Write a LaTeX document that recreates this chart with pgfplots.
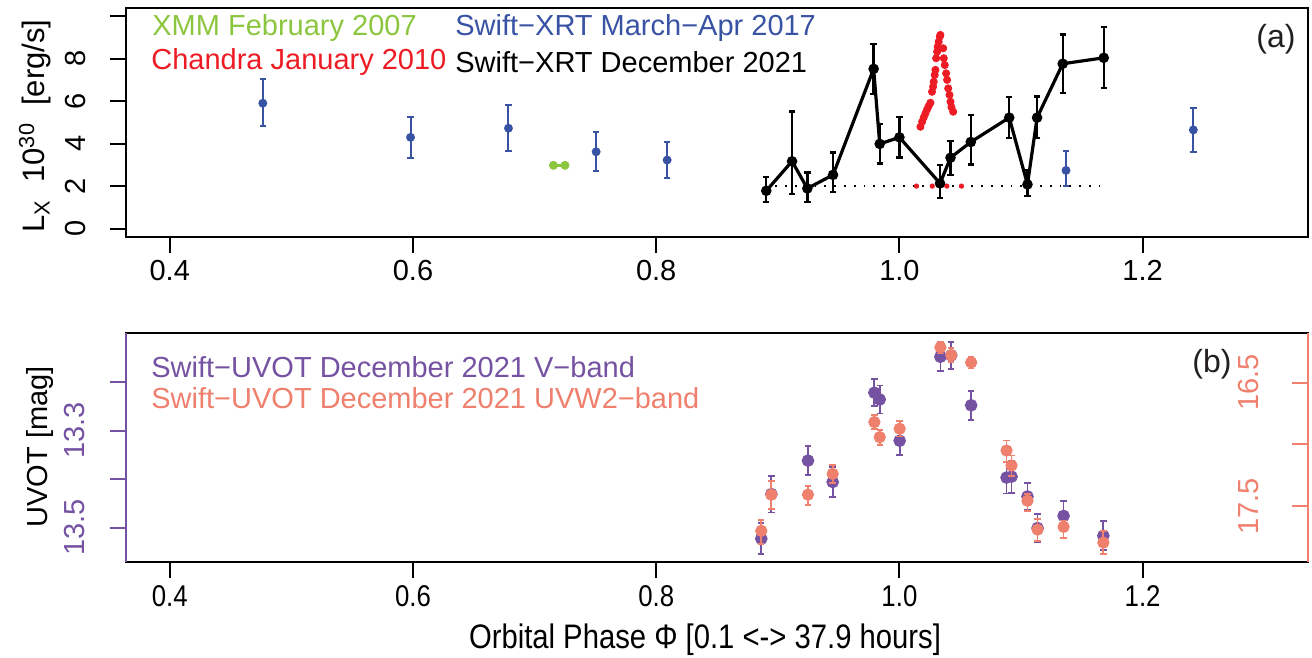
\documentclass[border=0pt]{standalone}
\usepackage{pgfplots}
\usepackage{pgfplotstable}
\pgfplotsset{compat=1.18}
\usepackage{fontspec}
\setmainfont{Liberation Sans}
\newfontfamily\condfont[FakeStretch=0.86]{Liberation Sans}

\definecolor{xmmgreen}{RGB}{140,198,63}
\definecolor{chred}{RGB}{237,28,36}
\definecolor{xrtblue}{RGB}{57,83,164}
\definecolor{vpurple}{RGB}{117,82,162}
\definecolor{uvsalmon}{RGB}{240,128,110}
\definecolor{dark}{RGB}{35,31,32}

% Swift-XRT March-Apr 2017
\pgfplotstableread{
x      y     ep    em
0.4765 5.91  1.15  1.09
0.5980 4.30  0.98  0.99
0.6785 4.73  1.08  1.08
0.7506 3.62  0.95  0.90
0.8090 3.23  0.85  0.84
1.1370 2.74  0.91  0.73
1.2417 4.65  1.05  1.03
}\xrtold

% Swift-XRT December 2021
\pgfplotstableread{
x      y     ep    em
0.8905 1.78  0.65  0.52
0.9117 3.17  2.34  1.55
0.9243 1.89  0.76  0.63
0.9454 2.53  1.06  0.80
0.9788 7.53  1.18  1.18
0.9838 3.99  0.94  0.92
1.0000 4.30  0.95  0.96
1.0334 2.13  0.86  0.68
1.0420 3.34  0.79  0.82
1.0587 4.08  1.28  1.07
1.0903 5.23  0.96  0.96
1.1053 2.08  0.68  0.55
1.1132 5.23  0.99  0.96
1.1343 7.77  1.38  1.39
1.1680 8.05  1.45  1.43
}\xrtnew

% Swift-UVOT V-band
\pgfplotstableread{
x      y      e
0.8864 13.523 0.032
0.8947 13.431 0.038
0.9248 13.362 0.030
0.9451 13.406 0.031
0.9794 13.222 0.028
0.9838 13.236 0.029
1.0002 13.321 0.029
1.0337 13.148 0.030
1.0426 13.145 0.028
1.0590 13.248 0.030
1.0881 13.397 0.033
1.0922 13.395 0.033
1.1053 13.436 0.028
1.1136 13.501 0.029
1.1350 13.476 0.030
1.1677 13.517 0.030
}\uvotv

% Swift-UVOT UVW2-band
\pgfplotstableread{
x      y      ep    em
0.8864 17.698 0.108 0.089
0.8947 17.406 0.116 0.108
0.9248 17.406 0.081 0.073
0.9451 17.238 0.076 0.073
0.9794 16.819 0.054 0.054
0.9838 16.941 0.061 0.060
1.0002 16.873 0.062 0.060
1.0337 16.215 0.049 0.045
1.0426 16.278 0.054 0.057
1.0590 16.337 0.049 0.046
1.0881 17.049 0.095 0.081
1.0922 17.170 0.082 0.081
1.1053 17.455 0.081 0.055
1.1136 17.688 0.091 0.085
1.1350 17.666 0.091 0.052
1.1677 17.793 0.094 0.095
}\uvotw

\pgfplotsset{
  panel/.style={
    scale only axis, width=591pt, height=114.5pt,
    xmin=0.364, xmax=1.336,
    xtick={0.4,0.6,0.8,1.0,1.2},
    tick align=outside, major tick length=8pt,
    axis line style={line width=1.4pt},
    ticklabel style={font=\fontsize{14.5}{17}\selectfont},
  },
  ebars/.style={error bars/.cd, y dir=both, y explicit,
    error bar style={line width=#1, solid},
    error mark options={rotate=90, mark size=1.6pt, line width=#1, solid}},
}

\begin{document}
\begin{tikzpicture}
\path[use as bounding box] (0,0) rectangle (656pt,-329pt);

% ---------- panel (a)
\begin{axis}[panel, name=top, at={(63pt,-4pt)}, anchor=north west,
  ymin=-0.4, ymax=10.4,
  xticklabels={0.4,0.6,0.8,1.0,1.2},
  ytick={0,2,4,6,8,10}, yticklabels={0,2,4,6,8,},
  tick pos=left, tick style={black, line width=1pt},
  yticklabel style={xshift=-8.5pt, rotate=90, anchor=south},
]
\addplot[black, dash pattern=on 0.9pt off 4pt, line width=1.1pt] coordinates {(0.89,2) (1.165,2)};
\addplot[chred, only marks, mark=*, mark size=1.1pt] coordinates {(1.014,2) (1.027,2) (1.039,2) (1.051,2)};
\addplot[xmmgreen, line width=1.2pt, mark=*, mark size=1.6pt] coordinates {(0.7155,2.98) (0.7250,2.98)};
\addplot[xrtblue, only marks, mark=*, mark size=1.7pt, line width=1pt, ebars=1pt]
  table[x=x, y=y, y error plus=ep, y error minus=em] {\xrtold};
\addplot[black, line width=1.6pt, mark=*, mark size=1.8pt, ebars=1.2pt]
  table[x=x, y=y, y error plus=ep, y error minus=em] {\xrtnew};
\addplot[chred, only marks, mark=*, mark size=1.8pt] coordinates {
  (1.0173,4.80) (1.0187,5.04) (1.0200,5.24) (1.0214,5.43) (1.0228,5.62)
  (1.0241,5.78) (1.0255,5.93) (1.0268,6.45) (1.0277,6.69) (1.0282,6.92)
  (1.0290,7.24) (1.0296,7.48) (1.0302,8.03) (1.0310,8.34) (1.0315,8.58)
  (1.0323,8.81) (1.0332,9.05) (1.0337,9.13)
  (1.0360,8.50) (1.0365,8.03) (1.0373,7.71) (1.0384,7.32) (1.0392,7.01)
  (1.0401,6.61) (1.0412,6.30) (1.0420,5.98) (1.0428,5.72) (1.0442,5.51)
};
\end{axis}

% ---------- panel (b): frame and x axis
\begin{axis}[panel, name=bot, at={(63pt,-166.5pt)}, anchor=north west,
  ymin=0, ymax=1, ytick=\empty,
  xticklabels={0.4,0.6,0.8,1.0,1.2},
  xtick pos=left, tick style={black, line width=1pt},
  xticklabel style={font=\condfont\fontsize{15}{17}\selectfont},
]
\end{axis}

% V-band (left axis)
\begin{axis}[panel, at={(63pt,-166.5pt)}, anchor=north west,
  y dir=reverse, ymin=13.099, ymax=13.571,
  xtick=\empty, axis line style={draw=none},
  ytick={13.2,13.3,13.4,13.5}, yticklabels={,13.3,,13.5},
  ytick pos=left, tick style={vpurple, line width=1pt},
  yticklabel style={vpurple, xshift=-9pt, rotate=90, anchor=south},
]
\addplot[vpurple, only marks, mark=*, mark size=2.7pt, line width=0.9pt, ebars=0.9pt]
  table[x=x, y=y, y error=e] {\uvotv};
\end{axis}

% UVW2-band (right axis)
\begin{axis}[panel, at={(63pt,-166.5pt)}, anchor=north west,
  y dir=reverse, ymin=16.099, ymax=17.95,
  xtick=\empty, axis line style={draw=none},
  ytick={16.5,17,17.5}, yticklabels={16.5,,17.5},
  ytick pos=right, tick align=inside, tick style={uvsalmon, line width=1pt},
  yticklabel style={uvsalmon, xshift=-21pt, rotate=90, anchor=south},
]
\addplot[uvsalmon, only marks, mark=*, mark size=2.6pt, line width=0.9pt, ebars=0.9pt]
  table[x=x, y=y, y error plus=ep, y error minus=em] {\uvotw};
\end{axis}

\draw[vpurple, line width=1.4pt] (bot.south west) -- (bot.north west);
\draw[uvsalmon, line width=1.4pt] (bot.south east) -- (bot.north east);

% ---------- texts
\begin{scope}[every node/.style={inner sep=0pt, font=\fontsize{14.5}{17}\selectfont}]
\node[anchor=west, text=xmmgreen] at (76pt,-14pt) {XMM February 2007};
\node[anchor=west, text=chred] at (75.5pt,-31pt) {Chandra January 2010};
\node[anchor=west, text=xrtblue] at (227.5pt,-14pt) {Swift−XRT March−Apr 2017};
\node[anchor=west, text=black] at (227.5pt,-31pt) {Swift−XRT December 2021};
\node[text=dark, font=\fontsize{16}{19}\selectfont] at (638pt,-19.5pt) {(a)};
\node[anchor=west, text=vpurple] at (75.5pt,-183.5pt) {Swift−UVOT December 2021 V−band};
\node[anchor=west, text=uvsalmon] at (75.5pt,-199pt) {Swift−UVOT December 2021 UVW2−band};
\node[text=dark, font=\fontsize{16}{19}\selectfont] at (606pt,-182pt) {(b)};
\node[rotate=90, font=\fontsize{15.5}{18}\selectfont] at (17.5pt,-63pt) {L\textsubscript{X}\ \ 10\textsuperscript{30}\ \ [erg/s]};
\node[rotate=90] at (20pt,-223.5pt) {UVOT [mag]};
\node[font=\condfont\fontsize{17}{20}\selectfont] at (352.5pt,-320pt) {Orbital Phase Φ [0.1 <-> 37.9 hours]};
\end{scope}
\end{tikzpicture}
\end{document}
